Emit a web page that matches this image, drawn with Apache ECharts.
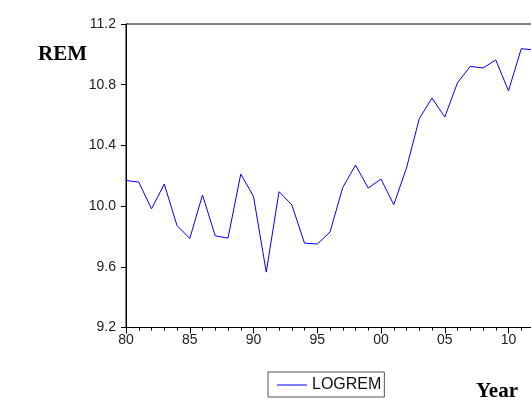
<!DOCTYPE html>
<html>
<head>
<meta charset="utf-8">
<script src="https://cdn.jsdelivr.net/npm/echarts@6/dist/echarts.min.js"></script>
<style>html,body{margin:0;padding:0;background:#fff;overflow:hidden;width:531px;height:400px;}#c{width:600px;height:400px;}</style>
</head>
<body>
<div id="c"></div>
<script>
var years = [1980,1981,1982,1983,1984,1985,1986,1987,1988,1989,1990,1991,1992,1993,1994,1995,1996,1997,1998,1999,2000,2001,2002,2003,2004,2005,2006,2007,2008,2009,2010,2011,2012];
var logrem = [10.169,10.158,9.982,10.145,9.872,9.787,10.073,9.804,9.789,10.211,10.064,9.565,10.095,10.009,9.756,9.750,9.829,10.123,10.270,10.119,10.178,10.009,10.251,10.576,10.712,10.587,10.813,10.921,10.910,10.963,10.760,11.037,11.030];
var yTicks = [9.2,9.6,10.0,10.4,10.8,11.2];
var seriesName = 'LOGREM';
var yTitle = 'REM';
var xTitle = 'Year';

var chart = echarts.init(document.getElementById('c'), null, {renderer:'canvas', width:600, height:400});
var data = years.map(function(y,i){return [y, logrem[i]];});
chart.setOption({
  animation:false,
  backgroundColor:'#fff',
  grid:{left:126, top:24, height:303.5, right:600-126-446.25, show:true, borderColor:'#000', borderWidth:1, backgroundColor:'transparent'},
  xAxis:{type:'value', min:1980, max:2015, interval:5,
    axisLine:{lineStyle:{color:'#000',width:1}},
    axisTick:{length:6, lineStyle:{color:'#000'}},
    minorTick:{show:true, splitNumber:5, length:3, lineStyle:{color:'#000'}},
    splitLine:{show:false},
    axisLabel:{fontFamily:'Liberation Sans, Arial', fontSize:14, color:'#222', margin:6,
      formatter:function(v){ if(v>2012) return ''; var s=String(v%100); return s.length<2?'0'+s:s; }}
  },
  yAxis:{type:'value', min:yTicks[0], max:yTicks[yTicks.length-1], interval:0.4,
    axisLine:{show:true, lineStyle:{color:'#000',width:1}},
    axisTick:{show:true, length:5, lineStyle:{color:'#000'}},
    splitLine:{show:false},
    axisLabel:{fontFamily:'Liberation Sans, Arial', fontSize:14, color:'#222', margin:10,
      formatter:function(v){return v.toFixed(1);}}
  },
  legend:{show:true, left:268, top:372, orient:'horizontal',
    data:[{name:seriesName, icon:'rect'}],
    itemWidth:30, itemHeight:1, padding:[5,3,4,9], itemGap:5,
    borderColor:'#555', borderWidth:1,
    textStyle:{fontFamily:'Liberation Sans, Arial', fontSize:16, color:'#111'}
  },
  graphic:[
    {type:'text', left:38, top:44, style:{text:yTitle, font:'bold 21px "Liberation Serif", "Times New Roman", serif', fill:'#000'}},
    {type:'text', left:476, top:381, style:{text:xTitle, font:'bold 21px "Liberation Serif", "Times New Roman", serif', fill:'#000'}}
  ],
  series:[{name:seriesName, type:'line', data:data, symbol:'none', lineStyle:{color:'#0000ff', width:1}, itemStyle:{color:'#0000ff'}}]
});
</script>
</body>
</html>
